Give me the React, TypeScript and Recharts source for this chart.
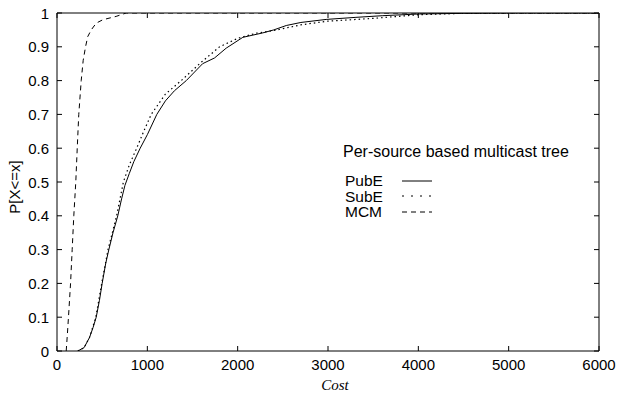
import { Label, Legend, Line, LineChart, ReferenceLine, XAxis, YAxis } from "recharts";

const xTicks = [0, 1000, 2000, 3000, 4000, 5000, 6000];
const yTicks = [0, 0.1, 0.2, 0.3, 0.4, 0.5, 0.6, 0.7, 0.8, 0.9, 1];

const pubE = [
  { x: 230, y: 0 }, { x: 300, y: 0.01 }, { x: 360, y: 0.04 }, { x: 400, y: 0.07 },
  { x: 434, y: 0.1 }, { x: 470, y: 0.15 }, { x: 500, y: 0.2 }, { x: 540, y: 0.26 },
  { x: 574, y: 0.3 }, { x: 620, y: 0.35 }, { x: 673, y: 0.4 }, { x: 715, y: 0.45 },
  { x: 752, y: 0.49 }, { x: 800, y: 0.525 }, { x: 850, y: 0.56 }, { x: 921, y: 0.6 },
  { x: 1000, y: 0.64 }, { x: 1105, y: 0.7 }, { x: 1200, y: 0.74 }, { x: 1300, y: 0.77 },
  { x: 1431, y: 0.8 }, { x: 1612, y: 0.85 }, { x: 1744, y: 0.867 }, { x: 1873, y: 0.896 },
  { x: 2057, y: 0.928 }, { x: 2276, y: 0.941 }, { x: 2400, y: 0.95 }, { x: 2538, y: 0.963 },
  { x: 2700, y: 0.972 }, { x: 2980, y: 0.981 }, { x: 3300, y: 0.987 }, { x: 3600, y: 0.992 },
  { x: 4000, y: 0.997 }, { x: 4500, y: 0.999 }, { x: 5000, y: 1 }, { x: 6000, y: 1 },
];

const subE = [
  { x: 230, y: 0 }, { x: 300, y: 0.01 }, { x: 360, y: 0.04 }, { x: 430, y: 0.1 },
  { x: 495, y: 0.2 }, { x: 565, y: 0.3 }, { x: 660, y: 0.4 }, { x: 735, y: 0.5 },
  { x: 800, y: 0.55 }, { x: 882, y: 0.6 }, { x: 960, y: 0.65 }, { x: 1043, y: 0.7 },
  { x: 1200, y: 0.76 }, { x: 1375, y: 0.8 }, { x: 1600, y: 0.855 }, { x: 1800, y: 0.9 },
  { x: 2000, y: 0.925 }, { x: 2200, y: 0.94 }, { x: 2400, y: 0.948 }, { x: 2700, y: 0.965 },
  { x: 3000, y: 0.976 }, { x: 3500, y: 0.984 }, { x: 4000, y: 0.995 }, { x: 4500, y: 0.999 },
  { x: 5000, y: 1 }, { x: 6000, y: 1 },
];

const mcm = [
  { x: 102, y: 0 }, { x: 115, y: 0.05 }, { x: 127, y: 0.1 }, { x: 150, y: 0.2 },
  { x: 168, y: 0.3 }, { x: 186, y: 0.4 }, { x: 208, y: 0.5 }, { x: 224, y: 0.6 },
  { x: 241, y: 0.7 }, { x: 268, y: 0.8 }, { x: 290, y: 0.86 }, { x: 316, y: 0.9 },
  { x: 340, y: 0.93 }, { x: 379, y: 0.95 }, { x: 434, y: 0.97 }, { x: 507, y: 0.98 },
  { x: 655, y: 0.99 }, { x: 766, y: 1 }, { x: 6000, y: 1 },
];

const font = "'Liberation Sans', Arial, Helvetica, sans-serif";

// chart geometry
const W = 618;
const H = 395;
const M = { top: 13, right: 19, left: 0, bottom: 0 };
const Y_AXIS_W = 57;
const X_AXIS_H = 44;
const PLOT_W = W - M.left - M.right - Y_AXIS_W;
const PLOT_H = H - M.top - M.bottom - X_AXIS_H;
const TICK = 5;

// gnuplot-style ticks: inward on the bottom axis, mirrored on the top border
const BottomTick = ({ x, y, payload }: any) => (
  <g>
    <line x1={x} y1={y} x2={x} y2={y - TICK} stroke="#000" strokeWidth={1} />
    <line x1={x} y1={y - PLOT_H} x2={x} y2={y - PLOT_H + TICK} stroke="#000" strokeWidth={1} />
    <text x={x} y={y + 18.5} textAnchor="middle" fontSize={15} fontFamily={font} fill="#000">
      {payload.value}
    </text>
  </g>
);

const LeftTick = ({ x, y, payload }: any) => (
  <g>
    <line x1={x} y1={y} x2={x + TICK} y2={y} stroke="#000" strokeWidth={1} />
    <line x1={x + PLOT_W} y1={y} x2={x + PLOT_W - TICK} y2={y} stroke="#000" strokeWidth={1} />
    <text x={x - 8} y={y + 5.5} textAnchor="end" fontSize={15} fontFamily={font} fill="#000">
      {payload.value}
    </text>
  </g>
);

const entries = [
  { name: "PubE", dash: "none" },
  { name: "SubE", dash: "2 7" },
  { name: "MCM", dash: "5 4" },
];

const LegendBox = () => (
  <div style={{ fontFamily: font, color: "#000", textAlign: "left" }}>
    <div style={{ fontSize: 16, lineHeight: "18px", marginBottom: 12 }}>Per-source based multicast tree</div>
    {entries.map((e) => (
      <div key={e.name} style={{ display: "flex", alignItems: "center", marginLeft: 2, fontSize: 15.5, lineHeight: "15.5px" }}>
        <span style={{ width: 57 }}>{e.name}</span>
        <svg width={32} height={6}>
          <line x1={0} y1={3} x2={30} y2={3} stroke="#000" strokeDasharray={e.dash} />
        </svg>
      </div>
    ))}
  </div>
);

export default function App() {
  return (
    <div style={{ position: "absolute", left: 0, top: 0, background: "#fff" }}>
      <LineChart width={W} height={H} margin={M}>
        <XAxis
          dataKey="x"
          type="number"
          domain={[0, 6000]}
          ticks={xTicks}
          height={X_AXIS_H}
          tickSize={0}
          tickMargin={0}
          tick={<BottomTick />}
          axisLine={{ stroke: "#000" }}
          tickLine={false}
          allowDataOverflow
        >
          <Label
            content={() => (
              <text x={335} y={390} textAnchor="middle" fontSize={15} fontStyle="italic" fontFamily="'Liberation Serif', 'DejaVu Serif', serif">
                Cost
              </text>
            )}
          />
        </XAxis>
        <YAxis
          type="number"
          domain={[0, 1]}
          ticks={yTicks}
          width={Y_AXIS_W}
          tickSize={0}
          tickMargin={0}
          tick={<LeftTick />}
          axisLine={{ stroke: "#000" }}
          tickLine={false}
          allowDataOverflow
        >
          <Label
            content={() => (
              <text x={20} y={187} transform="rotate(-90 20 187)" textAnchor="middle" fontSize={15} fontFamily={font}>
                P[X{"<"}=x]
              </text>
            )}
          />
        </YAxis>
        <ReferenceLine x={6000} stroke="#000" />
        <ReferenceLine y={1} stroke="#000" />
        <Legend
          content={<LegendBox />}
          layout="horizontal"
          verticalAlign="middle"
          align="center"
          wrapperStyle={{ position: "absolute", left: 343, top: 143, width: 260 }}
        />
        <Line data={pubE} dataKey="y" name="PubE" stroke="#000" strokeWidth={1} dot={false} isAnimationActive={false} />
        <Line data={subE} dataKey="y" name="SubE" stroke="#000" strokeWidth={1.2} strokeDasharray="1.5 3" dot={false} isAnimationActive={false} />
        <Line data={mcm} dataKey="y" name="MCM" stroke="#000" strokeWidth={1} strokeDasharray="5 4" dot={false} isAnimationActive={false} />
      </LineChart>
    </div>
  );
}
